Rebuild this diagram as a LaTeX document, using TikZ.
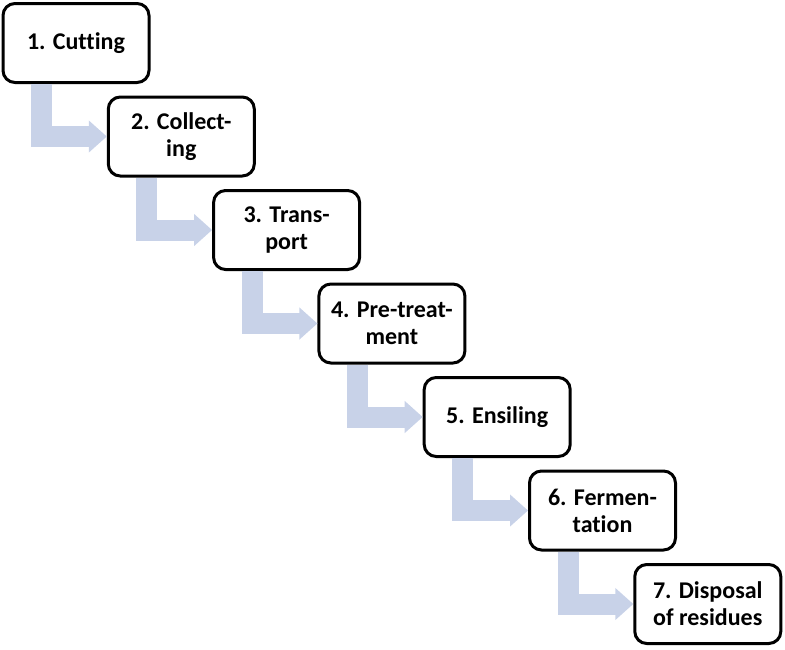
\documentclass[tikz,border=0pt]{standalone}
\usepackage{fontspec}
\setmainfont[Ligatures=CommonOff]{Carlito}
\usetikzlibrary{arrows.meta,calc}
\definecolor{arrowc}{RGB}{200,210,232}
\tikzset{
  stepbox/.style={draw=black, line width=3pt, rounded corners=12pt, fill=white,
    minimum width=146pt, minimum height=79pt, align=center, inner sep=2pt,
    font=\bfseries\fontsize{24}{27}\selectfont},
  flow/.style={draw=arrowc, line width=21pt, line join=miter,
    -{Triangle[length=18pt,width=31pt]}}
}
\begin{document}
\begin{tikzpicture}[x=1pt,y=-1pt]
\useasboundingbox (0,0) rectangle (785,649);
\node[stepbox] (b1) at (76,43) {1. Cutting};
\node[stepbox] (b2) at (181.3,136.5) {2. Collect-\\ing};
\node[stepbox] (b3) at (286.6,230) {3. Trans-\\port};
\node[stepbox] (b4) at (391.9,323.5) {4. Pre-treat-\\ment};
\node[stepbox] (b5) at (497.2,417) {5. Ensiling};
\node[stepbox] (b6) at (602.5,510.5) {6. Fermen-\\tation};
\node[stepbox] (b7) at (707.8,604) {7. Disposal\\of residues};
\foreach \a/\b in {b1/b2,b2/b3,b3/b4,b4/b5,b5/b6,b6/b7}{
  \coordinate (s\a) at ($(\a.south)+(-34.5,0)$);
  \draw[flow] (s\a) |- (\b.west);
}
\end{tikzpicture}
\end{document}
